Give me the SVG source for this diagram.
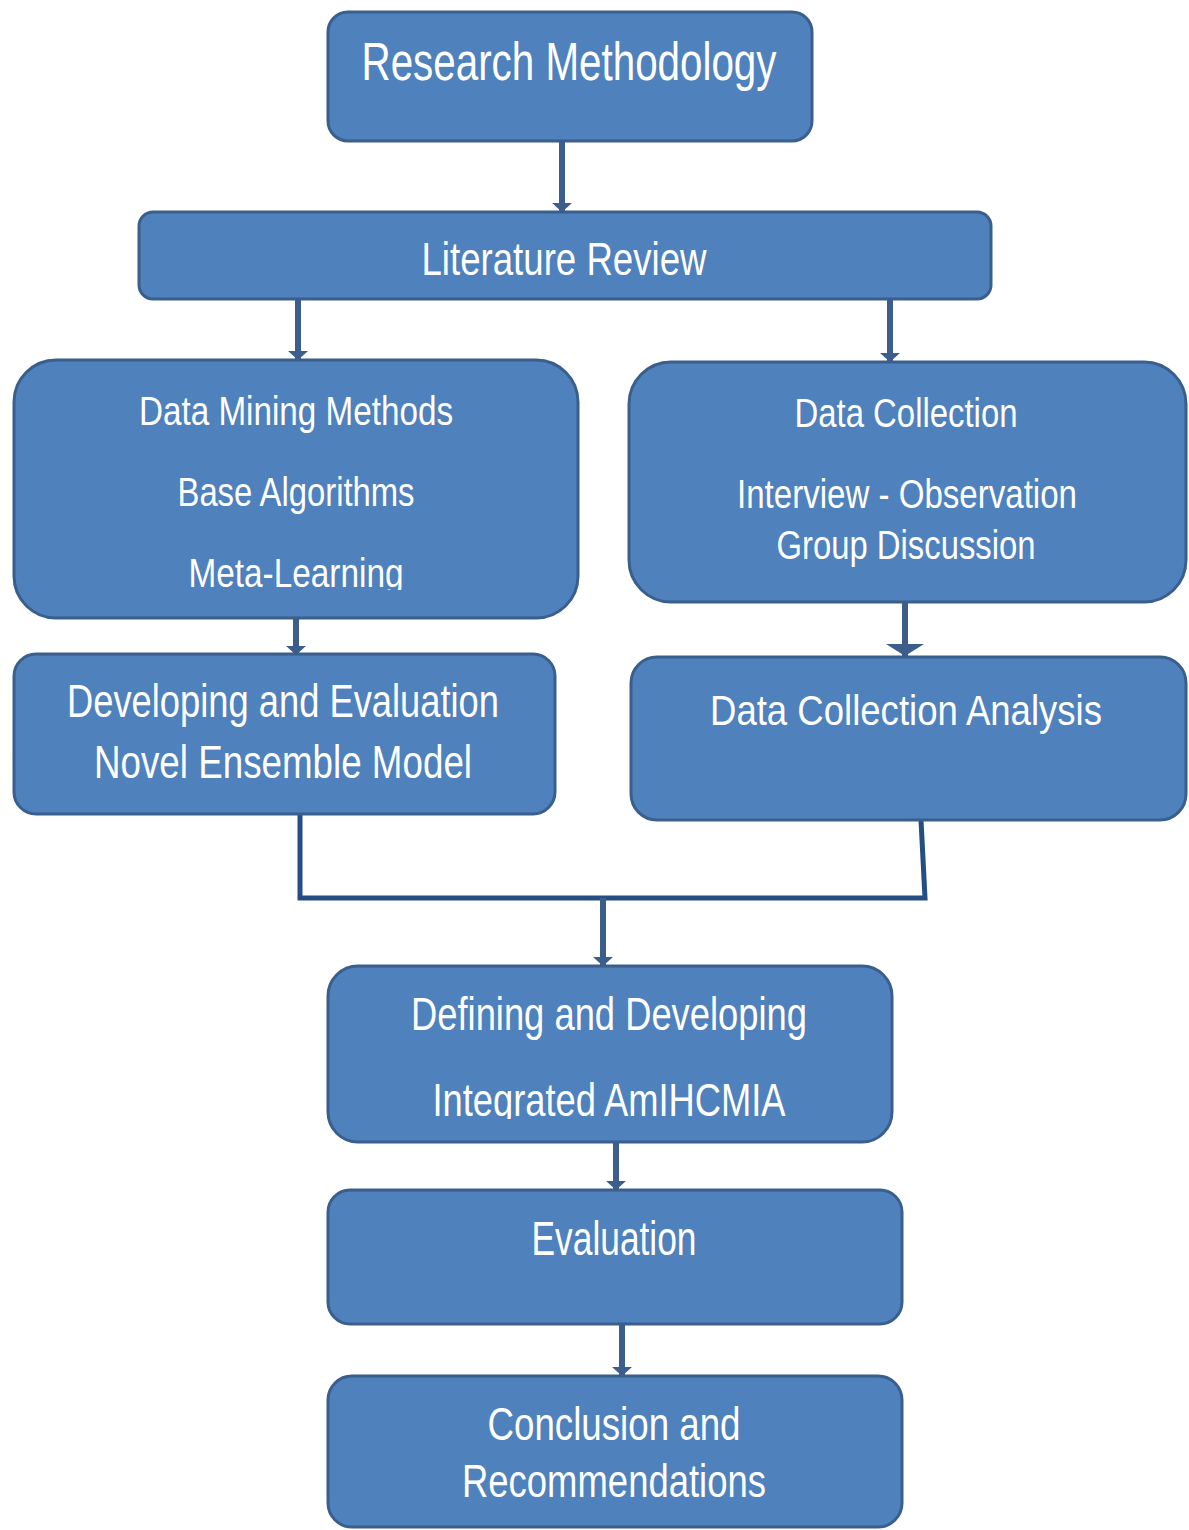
<svg xmlns="http://www.w3.org/2000/svg" width="1189" height="1530" viewBox="0 0 1189 1530">
  <style>
    .box { fill: #4F81BD; stroke: #3A5F8C; stroke-width: 3; }
    .lbl { fill: #FFFFFF; font-family: "Liberation Sans", Arial, sans-serif; text-anchor: middle; }
    .wire { fill: none; stroke: #3B5E8C; stroke-width: 6; }
    .join { fill: none; stroke: #254E85; stroke-width: 5; }
  </style>
  <defs>
    <marker id="head" viewBox="0 0 9 20" refX="9" refY="10" markerWidth="9" markerHeight="20" orient="auto" markerUnits="userSpaceOnUse">
      <path d="M0,0 L9,10 L0,20 Z" fill="#3B5E8C"/>
    </marker>
    <marker id="headWide" viewBox="0 0 12 38" refX="12" refY="19" markerWidth="12" markerHeight="38" orient="auto" markerUnits="userSpaceOnUse">
      <path d="M0,0 L12,19 L0,38 Z" fill="#3B5E8C"/>
    </marker>
    <clipPath id="clipMeta"><rect x="14" y="540" width="560" height="50"/></clipPath>
    <clipPath id="clipInteg"><rect x="328" y="1075" width="564" height="44"/></clipPath>
  </defs>

  <!-- connectors -->
  <g id="connectors">
    <line class="wire" x1="562" y1="141" x2="562" y2="212" marker-end="url(#head)"/>
    <line class="wire" x1="298" y1="299" x2="298" y2="360" marker-end="url(#head)"/>
    <line class="wire" x1="890" y1="299" x2="890" y2="362" marker-end="url(#head)"/>
    <line class="wire" x1="296" y1="618" x2="296" y2="655" marker-end="url(#head)"/>
    <line class="wire" x1="905" y1="602" x2="905" y2="656" stroke-width="9" marker-end="url(#headWide)"/>
    <polyline class="join" points="300,814 300,898 925,898 921,820"/>
    <line class="wire" x1="603" y1="898" x2="603" y2="966" marker-end="url(#head)"/>
    <line class="wire" x1="616" y1="1142" x2="616" y2="1190" marker-end="url(#head)"/>
    <line class="wire" x1="622" y1="1324" x2="622" y2="1376" marker-end="url(#head)"/>
  </g>

  <g id="research-methodology">
    <rect class="box" x="328" y="12" width="484" height="129" rx="20"/>
    <text class="lbl" x="569" y="80" font-size="53" textLength="415" lengthAdjust="spacingAndGlyphs">Research Methodology</text>
  </g>

  <g id="literature-review">
    <rect class="box" x="139" y="212" width="852" height="87" rx="14"/>
    <text class="lbl" x="564" y="275" font-size="46" textLength="285" lengthAdjust="spacingAndGlyphs">Literature Review</text>
  </g>

  <g id="data-mining">
    <rect class="box" x="14" y="360" width="564" height="258" rx="42"/>
    <text class="lbl" x="296" y="425" font-size="40" textLength="314" lengthAdjust="spacingAndGlyphs">Data Mining Methods</text>
    <text class="lbl" x="296" y="506" font-size="40" textLength="237" lengthAdjust="spacingAndGlyphs">Base Algorithms</text>
    <text class="lbl" x="296" y="587" font-size="40" textLength="215" lengthAdjust="spacingAndGlyphs" clip-path="url(#clipMeta)">Meta-Learning</text>
  </g>

  <g id="data-collection">
    <rect class="box" x="629" y="362" width="557" height="240" rx="42"/>
    <text class="lbl" x="906" y="427" font-size="40" textLength="223" lengthAdjust="spacingAndGlyphs">Data Collection</text>
    <text class="lbl" x="907" y="508" font-size="40" textLength="340" lengthAdjust="spacingAndGlyphs">Interview - Observation</text>
    <text class="lbl" x="906" y="559" font-size="40" textLength="259" lengthAdjust="spacingAndGlyphs">Group Discussion</text>
  </g>

  <g id="ensemble-model">
    <rect class="box" x="14" y="654" width="541" height="160" rx="22"/>
    <text class="lbl" x="283" y="717" font-size="47" textLength="432" lengthAdjust="spacingAndGlyphs">Developing and Evaluation</text>
    <text class="lbl" x="283" y="778" font-size="47" textLength="378" lengthAdjust="spacingAndGlyphs">Novel  Ensemble Model</text>
  </g>

  <g id="collection-analysis">
    <rect class="box" x="631" y="657" width="555" height="163" rx="26"/>
    <text class="lbl" x="906" y="725" font-size="42" textLength="392" lengthAdjust="spacingAndGlyphs">Data Collection Analysis</text>
  </g>

  <g id="defining-developing">
    <rect class="box" x="328" y="966" width="564" height="176" rx="30"/>
    <text class="lbl" x="609" y="1030" font-size="47" textLength="396" lengthAdjust="spacingAndGlyphs">Defining and Developing</text>
    <text class="lbl" x="609" y="1116" font-size="46" textLength="353" lengthAdjust="spacingAndGlyphs" clip-path="url(#clipInteg)">Integrated AmIHCMIA</text>
  </g>

  <g id="evaluation">
    <rect class="box" x="328" y="1190" width="574" height="134" rx="22"/>
    <text class="lbl" x="614" y="1255" font-size="48" textLength="165" lengthAdjust="spacingAndGlyphs">Evaluation</text>
  </g>

  <g id="conclusion">
    <rect class="box" x="328" y="1376" width="574" height="151" rx="24"/>
    <text class="lbl" x="614" y="1440" font-size="47" textLength="253" lengthAdjust="spacingAndGlyphs">Conclusion and</text>
    <text class="lbl" x="614" y="1497" font-size="47" textLength="304" lengthAdjust="spacingAndGlyphs">Recommendations</text>
  </g>
</svg>
